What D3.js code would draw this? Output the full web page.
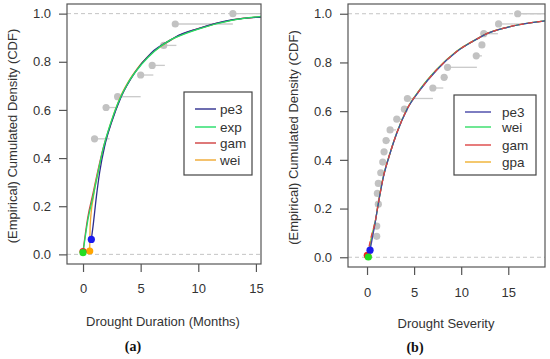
<!DOCTYPE html>
<html>
<head>
<meta charset="utf-8">
<script src="https://cdn.jsdelivr.net/npm/d3@7"></script>
<style>
  body { margin: 0; background: #fff; }
  text { font-family: "Liberation Sans", Arial, sans-serif; fill: #333; }
  .tick text { font-size: 13px; fill: #333; }
  .tick line { stroke: #555; }
</style>
</head>
<body>
<svg id="myGraph" width="550" height="359"></svg>
<script>
var svgWidth = 550;
var svgHeight = 359;

// tick labels
var yTicks = [0, 0.2, 0.4, 0.6, 0.8, 1.0];
var xTicks = [0, 5, 10, 15];

// (a) empirical points: duration, cdf, end of the step
var durX = [1, 2, 3, 5, 6, 7, 8, 13];
var durY = [0.48, 0.61, 0.655, 0.745, 0.785, 0.868, 0.957, 1.0];
var durEnd = [2.3, 3.0, 5.0, 6.1, 7.1, 8.1, 13, 16];

// (a) fitted curves
var durNames = ["pe3", "exp", "gam", "wei"];
var durColors = ["#2e2e8e", "#22dd66", "#d04040", "#f0a830"];
var durPe3 = [[0.72,0.062],[0.87,0.117],[1.16,0.24],[1.44,0.34],[1.88,0.45],[2.46,0.546],[3.33,0.657],[4.48,0.754],[5.92,0.837],[7.66,0.892],[8,0.902],[10,0.938],[13,0.975],[15.5,0.986]];
var durExp = [[0,0.007],[0.43,0.145],[0.87,0.24],[1.3,0.34],[1.73,0.436],[2.31,0.532],[3.04,0.63],[3.9,0.712],[5.06,0.788],[6.2,0.844],[7.37,0.885],[8,0.9],[10,0.936],[13,0.973],[15.5,0.989]];
var durGam = [[0,0.012],[0.4,0.15],[0.85,0.25],[1.3,0.35],[1.8,0.45],[2.4,0.54],[3.2,0.645],[4.2,0.735],[5.5,0.815],[7,0.875],[8,0.902],[10,0.938],[13,0.974],[15.5,0.987]];
var durWei = [[0.58,0.014],[0.62,0.12],[0.9,0.24],[1.35,0.35],[1.85,0.45],[2.4,0.545],[3.2,0.65],[4.3,0.745],[5.7,0.825],[7.3,0.88],[8,0.9],[10,0.937],[13,0.974],[15.5,0.987]];

// (b) empirical points: severity, cdf, end of the step
var sevX = [1.03, 1.03, 1.2, 1.1, 1.2, 1.46, 1.67, 1.81, 2.02, 2.45, 3.16, 3.97, 4.29, 6.99, 8.19, 8.55, 11.6, 12.2, 12.4, 13.97, 16.0];
var sevY = [0.086, 0.128, 0.218, 0.262, 0.303, 0.347, 0.391, 0.433, 0.479, 0.523, 0.567, 0.608, 0.652, 0.695, 0.739, 0.78, 0.827, 0.872, 0.918, 0.958, 1.0];
var sevEnd = [1.03, 1.2, 1.2, 1.2, 1.46, 1.67, 1.81, 2.02, 2.45, 3.1, 3.7, 4.29, 7.0, 8.1, 8.55, 11.67, 12.2, 12.4, 13.9, 16.3, 20];

// (b) fitted curves
var sevNames = ["pe3", "wei", "gam", "gpa"];
var sevColors = ["#4646a6", "#33dd66", "#dd4444", "#f0b030"];
var sevPe3 = [[0.32,0.029],[0.85,0.139],[1.2,0.22],[1.74,0.33],[2.45,0.427],[3.16,0.509],[4.22,0.605],[5.64,0.687],[7.41,0.769],[9.54,0.845],[11.85,0.9],[12.4,0.912],[15,0.945],[19,0.971]];
var sevWei = [[0.14,0.001],[0.5,0.08],[0.85,0.14],[1.2,0.222],[1.74,0.332],[2.45,0.428],[3.16,0.511],[4.22,0.607],[5.64,0.69],[7.41,0.771],[9.54,0.846],[11.85,0.9],[12.4,0.912],[15,0.945],[19,0.971]];
var sevGam = [[0.03,0.008],[0.45,0.085],[0.85,0.142],[1.2,0.221],[1.74,0.331],[2.45,0.428],[3.16,0.51],[4.22,0.606],[5.64,0.688],[7.41,0.77],[9.54,0.845],[11.85,0.9],[12.4,0.912],[15,0.945],[19,0.971]];
var sevGpa = [[0.1,0.004],[0.5,0.09],[0.85,0.143],[1.2,0.222],[1.74,0.332],[2.45,0.428],[3.16,0.51],[4.22,0.607],[5.64,0.69],[7.41,0.772],[9.54,0.847],[11.85,0.901],[12.4,0.913],[15,0.946],[19,0.971]];

var svg = d3.select("#myGraph");

function drawPanel(opt){
    var g = svg.append("g");
    var xScale = d3.scaleLinear().domain(opt.xDomain).range([opt.left, opt.right]);
    var yScale = d3.scaleLinear().domain([-0.04, 1.04]).range([opt.bottom, opt.top]);

    var clipId = "clip" + opt.id;
    g.append("clipPath").attr("id", clipId)
        .append("rect")
        .attr("x", opt.left).attr("y", opt.top)
        .attr("width", opt.right - opt.left).attr("height", opt.bottom - opt.top);

    var plot = g.append("g").attr("clip-path", "url(#" + clipId + ")");

    // dashed lines at 0 and 1
    plot.selectAll("line.ref")
        .data([0, 1])
        .enter()
        .append("line")
        .attr("x1", opt.left).attr("x2", opt.right)
        .attr("y1", d => yScale(d)).attr("y2", d => yScale(d))
        .attr("stroke", "#c4c4c4")
        .attr("stroke-width", 1)
        .attr("stroke-dasharray", "4,3");

    // empirical steps
    plot.selectAll("line.step")
        .data(opt.px)
        .enter()
        .append("line")
        .attr("x1", (d,i) => xScale(d))
        .attr("x2", (d,i) => xScale(opt.pend[i]))
        .attr("y1", (d,i) => yScale(opt.py[i]))
        .attr("y2", (d,i) => yScale(opt.py[i]))
        .attr("stroke", "#cacaca")
        .attr("stroke-width", 1.3);

    plot.selectAll("circle.emp")
        .data(opt.px)
        .enter()
        .append("circle")
        .attr("cx", d => xScale(d))
        .attr("cy", (d,i) => yScale(opt.py[i]))
        .attr("r", 3.6)
        .attr("fill", "#c2c2c2");

    // fitted curves
    var line = d3.line().x(d => xScale(d[0])).y(d => yScale(d[1])).curve(d3.curveMonotoneX);
    opt.order.forEach(function(k){
        plot.append("path")
            .attr("d", line(opt.curves[k]))
            .attr("fill", "none")
            .attr("stroke", opt.colors[k])
            .attr("stroke-width", 1.3)
            .attr("stroke-dasharray", opt.dash[k]);
    });

    // start points of curves
    opt.dotOrder.forEach(function(k){
        var p = opt.curves[k][0];
        g.append("circle")
            .attr("cx", xScale(p[0]))
            .attr("cy", yScale(p[1]))
            .attr("r", 3.6)
            .attr("fill", opt.dotColors[k]);
    });

    // box
    g.append("rect")
        .attr("x", opt.left).attr("y", opt.top)
        .attr("width", opt.right - opt.left).attr("height", opt.bottom - opt.top)
        .attr("fill", "none")
        .attr("stroke", "#555")
        .attr("stroke-width", 1.2);

    // axes
    var xAxis = d3.axisBottom(xScale).tickValues(xTicks).tickSize(8).tickPadding(opt.xPad).tickFormat(d3.format("d"));
    var gx = g.append("g").attr("transform", "translate(0," + opt.bottom + ")").call(xAxis);
    gx.select(".domain").remove();

    var yAxis = d3.axisLeft(yScale).tickValues(yTicks).tickSize(8).tickPadding(8).tickFormat(d3.format(".1f"));
    var gy = g.append("g").attr("transform", "translate(" + opt.left + ",0)").call(yAxis);
    gy.select(".domain").remove();
    g.selectAll(".tick line").attr("stroke", "#555").attr("stroke-width", 1.2);

    // titles
    g.append("text")
        .attr("x", opt.xTitleX).attr("y", opt.xTitleY)
        .attr("text-anchor", "middle")
        .style("font-size", "13px")
        .text(opt.xTitle);

    g.append("text")
        .attr("transform", "translate(" + opt.yTitleX + "," + ((opt.top + opt.bottom) / 2 + 2) + ") rotate(-90)")
        .attr("text-anchor", "middle")
        .style("font-size", "13px")
        .text("(Empirical) Cumulated Density (CDF)");

    g.append("text")
        .attr("x", opt.capX).attr("y", opt.capY)
        .attr("text-anchor", "middle")
        .style("font-family", "'Liberation Serif', 'Times New Roman', serif")
        .style("font-weight", "bold")
        .style("font-size", "14px")
        .style("fill", "#111")
        .text(opt.caption);

    // legend
    var lg = opt.legend;
    g.append("rect")
        .attr("x", lg.x).attr("y", lg.y)
        .attr("width", lg.w).attr("height", lg.h)
        .attr("fill", "#fff")
        .attr("stroke", "#444")
        .attr("stroke-width", 1.2);

    var items = g.selectAll("g.leg")
        .data(opt.names)
        .enter()
        .append("g")
        .attr("transform", (d,i) => "translate(0," + lg.rows[i] + ")");
    items.append("line")
        .attr("x1", lg.lx1).attr("x2", lg.lx2)
        .attr("stroke", (d,i) => opt.colors[i])
        .attr("stroke-width", 1.4);
    items.append("text")
        .attr("x", lg.tx).attr("y", 4.5)
        .style("font-size", "13.5px")
        .text(d => d);
}

drawPanel({
    id: "a",
    left: 67, right: 261, top: 4, bottom: 264,
    xDomain: [-1.39, 15.44],
    xPad: 12,
    px: durX, py: durY, pend: durEnd,
    curves: [durPe3, durExp, durGam, durWei],
    colors: durColors,
    dash: [null, null, null, null],
    names: durNames,
    order: [2, 3, 0, 1],
    dotOrder: [0, 3, 2, 1],
    dotColors: ["#1a1aee", "#22dd22", "#ee2222", "#ffa500"],
    xTitle: "Drought Duration (Months)",
    xTitleX: 163, xTitleY: 326,
    yTitleX: 17,
    caption: "(a)", capX: 133, capY: 351,
    legend: { x: 184, y: 92, w: 68, h: 83, rows: [109, 127, 143, 160], lx1: 195, lx2: 216, tx: 220 }
});

drawPanel({
    id: "b",
    left: 348, right: 545, top: 4, bottom: 267,
    xDomain: [-2.02, 18.9],
    xPad: 13,
    px: sevX, py: sevY, pend: sevEnd,
    curves: [sevPe3, sevWei, sevGam, sevGpa],
    colors: sevColors,
    dash: [null, null, "5,4", null],
    names: sevNames,
    order: [3, 1, 0, 2],
    dotOrder: [3, 2, 0, 1],
    dotColors: ["#1a1aee", "#22dd22", "#ee2222", "#ffa500"],
    xTitle: "Drought Severity",
    xTitleX: 446, xTitleY: 328,
    yTitleX: 298,
    caption: "(b)", capX: 415, capY: 352,
    legend: { x: 454, y: 95, w: 82, h: 80, rows: [112, 127, 145, 162], lx1: 465, lx2: 491, tx: 502 }
});
</script>
</body>
</html>
